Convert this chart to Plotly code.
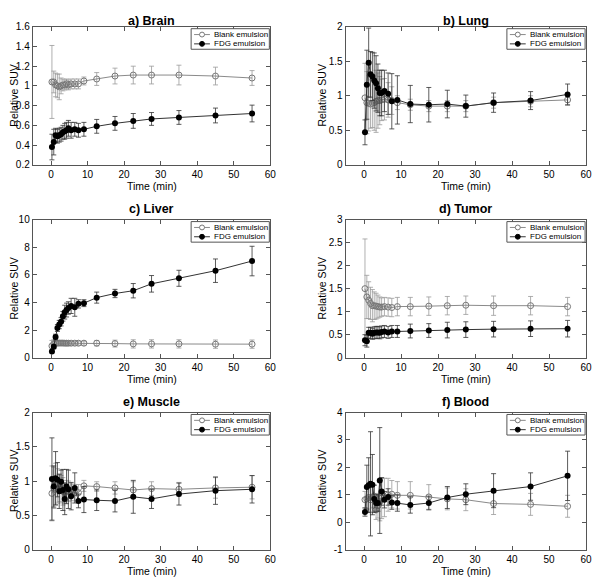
import plotly.graph_objects as go

time_min = [0.25, 0.75, 1.25, 1.75, 2.25, 2.75, 3.25, 3.75, 4.25, 4.75,
            5.5, 6.5, 7.5, 9, 12.5, 17.5, 22.5, 27.5, 35, 45, 55]

# a) Brain
brain_blank = [1.04, 1.04, 1.01, 1.00, 0.99, 1.00, 1.01, 1.01, 1.02, 1.01, 1.02, 1.02, 1.02, 1.05, 1.07, 1.10, 1.11, 1.11, 1.11, 1.10, 1.08]
brain_blank_err = [0.37, 0.11, 0.12, 0.12, 0.13, 0.08, 0.06, 0.05, 0.05, 0.05, 0.05, 0.05, 0.05, 0.04, 0.065, 0.08, 0.09, 0.09, 0.10, 0.09, 0.075]
brain_fdg = [0.38, 0.43, 0.50, 0.49, 0.50, 0.51, 0.53, 0.54, 0.55, 0.57, 0.55, 0.56, 0.55, 0.56, 0.59, 0.62, 0.645, 0.665, 0.68, 0.70, 0.72]
brain_fdg_err = [0.13, 0.13, 0.07, 0.07, 0.07, 0.07, 0.07, 0.08, 0.08, 0.08, 0.08, 0.07, 0.07, 0.07, 0.07, 0.07, 0.075, 0.065, 0.07, 0.075, 0.085]

# b) Lung
lung_blank = [0.97, 0.90, 0.89, 0.88, 0.89, 0.90, 0.92, 0.93, 0.93, 0.94, 0.95, 0.94, 0.93, 0.90, 0.87, 0.85, 0.85, 0.85, 0.90, 0.92, 0.94]
lung_blank_err = [0.5, 0.45, 0.4, 0.35, 0.35, 0.4, 0.45, 0.4, 0.35, 0.3, 0.3, 0.25, 0.2, 0.1, 0.08, 0.08, 0.08, 0.08, 0.08, 0.08, 0.08]
lung_fdg = [0.47, 1.16, 1.48, 1.31, 1.28, 1.22, 1.18, 1.11, 1.04, 1.04, 1.07, 1.03, 0.92, 0.94, 0.88, 0.87, 0.88, 0.85, 0.90, 0.93, 1.02]
lung_fdg_err = [0.18, 0.5, 0.5, 0.33, 0.35, 0.4, 0.4, 0.35, 0.33, 0.33, 0.3, 0.3, 0.4, 0.35, 0.27, 0.25, 0.2, 0.16, 0.14, 0.13, 0.15]

# c) Liver
liver_blank = [0.85, 1.00, 1.05, 1.05, 1.06, 1.06, 1.06, 1.05, 1.05, 1.05, 1.05, 1.05, 1.05, 1.05, 1.05, 1.02, 1.00, 1.00, 1.00, 0.98, 0.98]
liver_blank_err = [0.4, 0.3, 0.15, 0.15, 0.15, 0.15, 0.15, 0.15, 0.15, 0.15, 0.15, 0.15, 0.15, 0.15, 0.2, 0.25, 0.3, 0.3, 0.3, 0.3, 0.3]
liver_fdg = [0.45, 0.80, 1.50, 2.15, 2.40, 2.60, 3.00, 3.30, 3.45, 3.60, 3.75, 3.65, 3.90, 3.95, 4.35, 4.65, 4.85, 5.35, 5.75, 6.30, 7.00]
liver_fdg_err = [0.1, 0.15, 0.2, 0.25, 0.3, 0.3, 0.35, 0.5, 0.5, 0.45, 0.55, 0.65, 0.3, 0.25, 0.4, 0.3, 0.52, 0.6, 0.58, 0.85, 1.07]

# d) Tumor
tumor_blank = [1.50, 1.32, 1.25, 1.18, 1.13, 1.13, 1.12, 1.11, 1.10, 1.10, 1.11, 1.10, 1.09, 1.11, 1.11, 1.12, 1.13, 1.14, 1.13, 1.13, 1.11]
tumor_blank_err = [1.08, 0.47, 0.4, 0.35, 0.35, 0.3, 0.28, 0.25, 0.22, 0.2, 0.2, 0.2, 0.2, 0.2, 0.2, 0.2, 0.2, 0.2, 0.21, 0.2, 0.2]
tumor_fdg = [0.38, 0.36, 0.54, 0.54, 0.52, 0.54, 0.55, 0.55, 0.54, 0.56, 0.57, 0.55, 0.57, 0.57, 0.58, 0.59, 0.60, 0.61, 0.62, 0.63, 0.63]
tumor_fdg_err = [0.12, 0.13, 0.12, 0.12, 0.12, 0.13, 0.13, 0.13, 0.13, 0.13, 0.13, 0.13, 0.13, 0.13, 0.15, 0.15, 0.17, 0.17, 0.17, 0.17, 0.18]

# e) Muscle
muscle_blank = [0.82, 0.90, 0.96, 0.93, 0.90, 0.88, 0.85, 0.83, 0.86, 0.85, 0.84, 0.83, 0.83, 0.93, 0.92, 0.90, 0.87, 0.89, 0.88, 0.90, 0.91]
muscle_blank_err = [0.4, 0.3, 0.3, 0.25, 0.2, 0.2, 0.2, 0.15, 0.15, 0.15, 0.12, 0.12, 0.12, 0.08, 0.07, 0.09, 0.12, 0.1, 0.1, 0.15, 0.17]
muscle_fdg = [1.03, 0.92, 1.04, 1.02, 0.85, 0.99, 0.87, 0.74, 0.92, 0.88, 0.78, 0.90, 0.71, 0.73, 0.72, 0.71, 0.77, 0.74, 0.81, 0.86, 0.88]
muscle_fdg_err = [0.6, 0.3, 0.39, 0.25, 0.25, 0.17, 0.3, 0.23, 0.25, 0.28, 0.2, 0.22, 0.1, 0.19, 0.15, 0.16, 0.24, 0.14, 0.16, 0.2, 0.2]

# f) Blood
blood_blank = [0.82, 0.85, 0.90, 0.82, 0.92, 0.95, 0.45, 0.60, 0.75, 0.88, 0.90, 1.00, 1.02, 0.98, 0.98, 0.92, 0.85, 0.82, 0.68, 0.65, 0.58]
blood_blank_err = [0.3, 0.4, 0.5, 0.45, 0.4, 0.4, 0.35, 0.45, 0.7, 0.75, 0.7, 0.6, 0.5, 0.5, 0.5, 0.45, 0.4, 0.4, 0.4, 0.4, 0.4]
blood_fdg = [0.37, 1.28, 1.35, 1.40, 1.37, 0.85, 0.70, 0.70, 1.52, 1.12, 0.82, 0.92, 0.72, 0.70, 0.63, 0.70, 0.90, 1.02, 1.15, 1.30, 1.69]
blood_fdg_err = [0.15, 0.8, 1.0, 1.9, 1.1, 0.5, 0.3, 0.3, 1.93, 0.5, 0.3, 0.3, 0.25, 0.3, 0.3, 0.25, 0.4, 0.38, 0.62, 0.5, 0.9]

panel_titles = ["a) Brain", "b) Lung", "c) Liver", "d) Tumor", "e) Muscle", "f) Blood"]
blank_series = [brain_blank, lung_blank, liver_blank, tumor_blank, muscle_blank, blood_blank]
blank_errors = [brain_blank_err, lung_blank_err, liver_blank_err, tumor_blank_err, muscle_blank_err, blood_blank_err]
fdg_series = [brain_fdg, lung_fdg, liver_fdg, tumor_fdg, muscle_fdg, blood_fdg]
fdg_errors = [brain_fdg_err, lung_fdg_err, liver_fdg_err, tumor_fdg_err, muscle_fdg_err, blood_fdg_err]
y_ranges = [(0.2, 1.6, 0.2), (0, 2, 0.5), (0, 10, 2), (0, 3, 0.5), (0, 2, 0.5), (-1, 4, 1)]
x_ticks = [0, 10, 20, 30, 40, 50, 60]
series_names = ["Blank emulsion", "FDG emulsion"]
x_title = "Time (min)"
y_title = "Relative SUV"

# page body has an 8px margin: figure is 593x576, coordinates below are in window pixels
OFF = 8
W, H = 601 - OFF, 584 - OFF
col_px = [(33, 273), (349, 592)]
row_px = [(21, 162), (218, 359), (415, 555)]
ytitle_x = [14, 325]
title_y = [15, 207, 404]

BLANK_LINE = "#8a8a8a"
BLANK_MARK = "#777777"
BLANK_ERR = "#9a9a9a"
FDG_LINE = "#333333"
AXIS_C = "#555555"

FONT = "Arial, Liberation Sans, sans-serif"
fig = go.Figure()
annotations = []
shapes = []


def px(xp, yp):
    return (xp - OFF) / W, 1 - (yp - OFF) / H


for i in range(6):
    r, c = divmod(i, 2)
    ax = "" if i == 0 else str(i + 1)
    xa, ya = "x" + ax, "y" + ax
    fig.add_trace(go.Scatter(
        x=time_min, y=blank_series[i], name=series_names[0], mode="lines+markers",
        xaxis=xa, yaxis=ya, showlegend=False,
        line=dict(color=BLANK_LINE, width=1),
        marker=dict(symbol="circle-open", size=6, color=BLANK_MARK, line=dict(width=1)),
        error_y=dict(type="data", array=blank_errors[i], color=BLANK_ERR, thickness=0.8, width=2.5),
    ))
    fig.add_trace(go.Scatter(
        x=time_min, y=fdg_series[i], name=series_names[1], mode="lines+markers",
        xaxis=xa, yaxis=ya, showlegend=False,
        line=dict(color=FDG_LINE, width=1),
        marker=dict(symbol="circle", size=6, color="black"),
        error_y=dict(type="data", array=fdg_errors[i], color=FDG_LINE, thickness=0.8, width=2.5),
    ))
    x0, x1 = col_px[c]
    y0, y1 = row_px[r]
    ax0, ay1 = px(x0, y1)
    ax1, ay0 = px(x1, y0)
    lo, hi, step = y_ranges[i]
    nt = int(round((hi - lo) / step)) + 1
    yt = [round(lo + k * step, 4) for k in range(nt)]
    common = dict(showline=True, linecolor=AXIS_C, linewidth=1, mirror="allticks",
                  ticks="inside", ticklen=4, tickcolor=AXIS_C, showgrid=False,
                  zeroline=False, tickfont=dict(family=FONT, size=10, color="black"))
    fig.update_layout(**{
        "xaxis" + ax: dict(domain=[ax0, ax1], range=[-5, 60], tickvals=x_ticks, anchor=ya, **common),
        "yaxis" + ax: dict(domain=[ay1, ay0], range=[lo, hi], tickvals=yt,
                           ticktext=[("%g" % v) for v in yt], anchor=xa, **common),
    })
    # title
    tx, ty = px((x0 + x1) / 2, title_y[r])
    annotations.append(dict(text="<b>%s</b>" % panel_titles[i], x=tx, y=ty, xref="paper", yref="paper",
                            showarrow=False, font=dict(family=FONT, size=12.5, color="black"),
                            xanchor="center", yanchor="middle"))
    # x title
    tx, ty = px((x0 + x1) / 2, y1 + 21.5)
    annotations.append(dict(text=x_title, x=tx, y=ty, xref="paper", yref="paper",
                            showarrow=False, font=dict(family=FONT, size=10.5, color="black"),
                            xanchor="center", yanchor="middle"))
    # y title
    tx, ty = px(ytitle_x[c], (y0 + y1) / 2)
    annotations.append(dict(text=y_title, x=tx, y=ty, xref="paper", yref="paper", textangle=-90,
                            showarrow=False, font=dict(family=FONT, size=10.5, color="black"),
                            xanchor="center", yanchor="middle"))
    # legend box
    lx1 = x1 - 1
    lx0 = lx1 - 79
    ly0 = y0 + 2
    ly1 = ly0 + 21
    a0, b0 = px(lx0, ly0)
    a1, b1 = px(lx1, ly1)
    shapes.append(dict(type="rect", xref="paper", yref="paper", x0=a0, x1=a1, y0=b1, y1=b0,
                       line=dict(color=AXIS_C, width=1), fillcolor="white", layer="above"))
    for k, (lc, filled) in enumerate([(BLANK_LINE, False), (FDG_LINE, True)]):
        rowy = ly0 + 6 + k * 9.5
        s0, sy = px(lx0 + 3, rowy)
        s1, _ = px(lx0 + 19, rowy)
        shapes.append(dict(type="line", xref="paper", yref="paper", x0=s0, x1=s1, y0=sy, y1=sy,
                           line=dict(color=lc, width=1), layer="above"))
        cx = lx0 + 11
        rad = 2.5
        c0x, c0y = px(cx - rad, rowy - rad)
        c1x, c1y = px(cx + rad, rowy + rad)
        shapes.append(dict(type="circle", xref="paper", yref="paper", x0=c0x, x1=c1x, y0=c1y, y1=c0y,
                           line=dict(color=BLANK_MARK if not filled else "black", width=1),
                           fillcolor="black" if filled else "white", layer="above"))
        t0, ty = px(lx0 + 21, rowy)
        annotations.append(dict(text=series_names[k], x=t0, y=ty, xref="paper", yref="paper",
                                showarrow=False, font=dict(family=FONT, size=8, color="black"),
                                xanchor="left", yanchor="middle"))

fig.update_layout(width=W, height=H, margin=dict(l=0, r=0, t=0, b=0),
                  plot_bgcolor="white", paper_bgcolor="white",
                  annotations=annotations, shapes=shapes, showlegend=False)
fig.write_html("out.html")
